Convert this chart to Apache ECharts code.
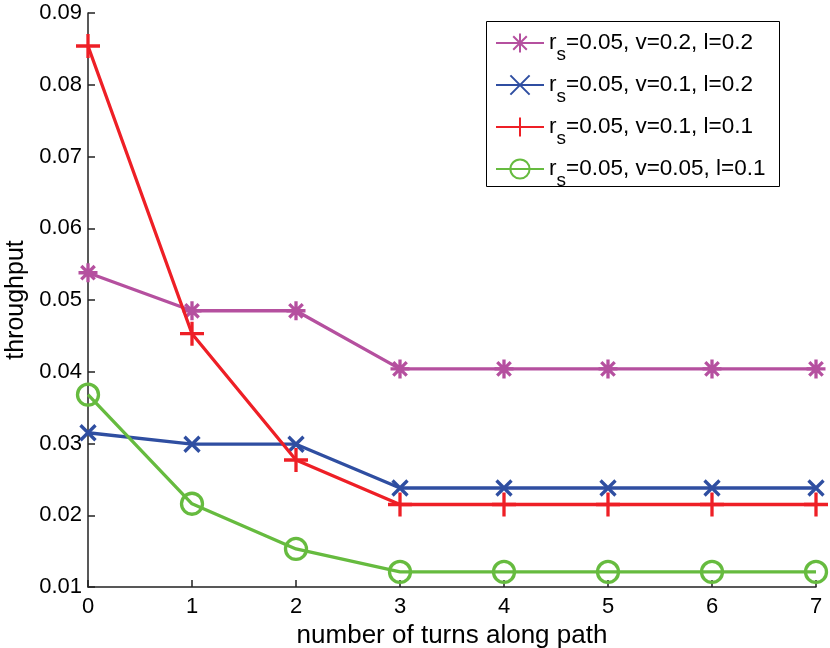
<!DOCTYPE html>
<html>
<head>
<meta charset="utf-8">
<script src="https://cdn.jsdelivr.net/npm/echarts@6/dist/echarts.min.js"></script>
<style>
  html, body { margin: 0; padding: 0; background: #fff; }
  #chart { width: 830px; height: 648px; }
</style>
</head>
<body>
<div id="chart"></div>
<script>
  // Data
  var turns = [0, 1, 2, 3, 4, 5, 6, 7];
  var seriesNames = ['a', 'b', 'c', 'd'];
  var legendLabels = [
    'r{s|s}=0.05, v=0.2, l=0.2',
    'r{s|s}=0.05, v=0.1, l=0.2',
    'r{s|s}=0.05, v=0.1, l=0.1',
    'r{s|s}=0.05, v=0.05, l=0.1'
  ];
  var magenta = [0.0538, 0.0485, 0.0485, 0.0404, 0.0404, 0.0404, 0.0404, 0.0404];
  var blue    = [0.0315, 0.0299, 0.0299, 0.0238, 0.0238, 0.0238, 0.0238, 0.0238];
  var red     = [0.0854, 0.0453, 0.0277, 0.0215, 0.0215, 0.0215, 0.0215, 0.0215];
  var green   = [0.0368, 0.0216, 0.0153, 0.0121, 0.0121, 0.0121, 0.0121, 0.0121];

  var colors = ['#b5509f', '#2f4ea1', '#ee1f26', '#66bb3f'];
  var symbols = [
    'path://M0,-10L0,10M-10,0L10,0M-7.07,-7.07L7.07,7.07M-7.07,7.07L7.07,-7.07',
    'path://M-10,-10L10,10M-10,10L10,-10',
    'path://M0,-10L0,10M-10,0L10,0',
    'circle'
  ];
  var sizes = [19, 15, 24, 21];
  var values = [magenta, blue, red, green];

  var labelMap = {};
  seriesNames.forEach(function (n, i) { labelMap[n] = legendLabels[i]; });

  var font = '"Liberation Sans", Arial, Helvetica, sans-serif';

  var series = seriesNames.map(function (name, i) {
    var isCircle = symbols[i] === 'circle';
    return {
      name: name,
      type: 'line',
      data: turns.map(function (t, k) { return [t, values[i][k]]; }),
      symbol: symbols[i],
      symbolSize: sizes[i],
      showAllSymbol: true,
      lineStyle: { color: colors[i], width: 3.3 },
      itemStyle: {
        color: isCircle ? 'rgba(255,255,255,0)' : colors[i],
        borderColor: colors[i],
        borderWidth: 3.3
      },
      emphasis: { disabled: true },
      animation: false,
      z: 2 + i
    };
  });

  var chart = echarts.init(document.getElementById('chart'));
  chart.setOption({
    backgroundColor: '#fff',
    animation: false,
    grid: { left: 88, right: 14, top: 13, bottom: 61, containLabel: false, outerBoundsMode: 'none' },
    graphic: [{
      type: 'rect',
      z: 3,
      shape: { x: 486.5, y: 21.5, width: 293, height: 165 },
      style: { fill: '#fff', stroke: '#000', lineWidth: 1 }
    }],
    legend: {
      data: seriesNames,
      orient: 'vertical',
      left: 495,
      top: 22,
      padding: 0,
      itemGap: 0,
      itemWidth: 48,
      itemHeight: 24,
      z: 5,
      formatter: function (name) { return labelMap[name]; },
      textStyle: {
        fontFamily: font,
        fontSize: 22.5,
        color: '#000',
        lineHeight: 40,
        rich: {
          s: { fontFamily: font, fontSize: 19, lineHeight: 42, verticalAlign: 'bottom', color: '#000' }
        }
      }
    },
    xAxis: {
      type: 'value',
      min: 0,
      max: 7,
      interval: 1,
      name: 'number of turns along path',
      nameLocation: 'middle',
      nameGap: 33,
      nameTextStyle: { fontFamily: font, fontSize: 26, color: '#000' },
      axisLine: { show: true, lineStyle: { color: '#222', width: 1.5 } },
      axisTick: { show: true, inside: true, length: 7, lineStyle: { color: '#222', width: 1.5 } },
      axisLabel: { fontFamily: font, fontSize: 22, color: '#000', margin: 9 },
      splitLine: { show: false }
    },
    yAxis: {
      type: 'value',
      min: 0.01,
      max: 0.09,
      interval: 0.01,
      name: 'throughput',
      nameLocation: 'middle',
      nameGap: 57,
      nameTextStyle: { fontFamily: font, fontSize: 25, color: '#000' },
      axisLine: { show: true, lineStyle: { color: '#222', width: 1.5 } },
      axisTick: { show: true, inside: true, length: 7, lineStyle: { color: '#222', width: 1.5 } },
      axisLabel: {
        fontFamily: font, fontSize: 22, color: '#000', margin: 6,
        formatter: function (v) { return v.toFixed(2); }
      },
      splitLine: { show: false }
    },
    series: series
  });
</script>
</body>
</html>
